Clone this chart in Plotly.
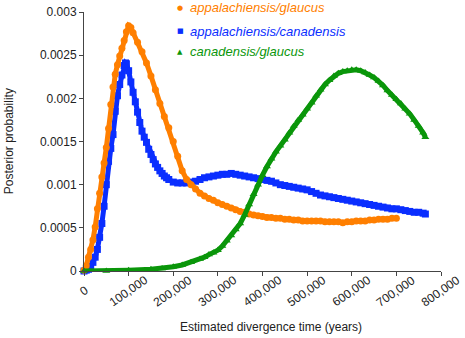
import plotly.graph_objects as go

# ---- data (x in thousands of years, y = posterior probability) ----
ag_x_k = [0, 5, 10, 15, 20, 25, 30, 35, 40, 45, 50, 55, 60, 65, 70, 75, 80, 85, 90, 95, 100, 105,
          110, 120, 130, 140, 150, 160, 170, 180, 190, 200, 210, 220, 230, 240, 250, 260, 270, 280,
          290, 300, 310, 320, 330, 340, 350, 360, 370, 380, 390, 400, 410, 420, 430, 440, 450, 460,
          470, 480, 490, 500, 510, 520, 530, 540, 550, 560, 570, 580, 590, 600, 610, 620, 630, 640,
          650, 660, 670, 680, 690, 700]
ag_y = [0.00001, 0.00006, 0.00016, 0.00025, 0.00036, 0.00051, 0.00072, 0.00090, 0.00109, 0.00125,
        0.00143, 0.00165, 0.00193, 0.00213, 0.00228, 0.00239, 0.00249, 0.00258, 0.00267, 0.00277,
        0.00284, 0.00282, 0.00276, 0.00265, 0.00254, 0.00241, 0.00226, 0.00210, 0.00194, 0.00179,
        0.00166, 0.00150, 0.00133, 0.00116, 0.00106, 0.00100, 0.00095, 0.00090, 0.00087, 0.00084,
        0.00082, 0.00079, 0.00077, 0.00075, 0.00073, 0.00071, 0.00069, 0.00068, 0.00066, 0.00065,
        0.00064, 0.00063, 0.00062, 0.00062, 0.00061, 0.00061, 0.00060, 0.00060, 0.00059, 0.00059,
        0.00058, 0.00058, 0.00058, 0.00058, 0.00058, 0.00057, 0.00057, 0.00057, 0.00057, 0.00056,
        0.00057, 0.00057, 0.00058, 0.00058, 0.00058, 0.00059, 0.00059, 0.00060, 0.00060, 0.00060,
        0.00061, 0.00061]

ac_x_k = [0, 5, 10, 15, 20, 25, 30, 35, 40, 45, 50, 55, 60, 65, 70, 75, 80, 85, 90, 93, 95, 100,
          105, 110, 115, 120, 125, 130, 135, 140, 145, 150, 155, 160, 165, 170, 175, 180, 185, 190,
          200, 210, 220, 230, 240, 250, 260, 270, 280, 290, 300, 310, 320, 330, 340, 350, 360, 370,
          380, 390, 400, 410, 420, 430, 440, 450, 460, 470, 480, 490, 500, 510, 520, 530, 540, 550,
          560, 570, 580, 590, 600, 610, 620, 630, 640, 650, 660, 670, 680, 690, 700, 710, 720, 730,
          740, 750, 760, 765]
ac_y = [0.0, 0.00001, 0.00002, 0.00005, 0.00010, 0.00016, 0.00025, 0.00039, 0.00055, 0.00075,
        0.00100, 0.00127, 0.00142, 0.00158, 0.00185, 0.00203, 0.00216, 0.00227, 0.00238, 0.00241,
        0.00240, 0.00232, 0.00219, 0.00207, 0.00196, 0.00184, 0.00172, 0.00162, 0.00155, 0.00149,
        0.00141, 0.00135, 0.00129, 0.00124, 0.00120, 0.00116, 0.00113, 0.00110, 0.00108, 0.00106,
        0.00103, 0.00102, 0.00102, 0.00102, 0.00103, 0.00104, 0.00106, 0.00108, 0.00109, 0.00110,
        0.00111, 0.00112, 0.00112, 0.00113, 0.00112, 0.00111, 0.00110, 0.00109, 0.00108, 0.00107,
        0.00106, 0.00105, 0.00104, 0.00102, 0.00100, 0.00099, 0.00098, 0.00097, 0.00096, 0.00095,
        0.00094, 0.00092, 0.00090, 0.00088, 0.00087, 0.00086, 0.00085, 0.00084, 0.00083, 0.00082,
        0.00081, 0.00080, 0.00079, 0.00078, 0.00077, 0.00076, 0.00075, 0.00074, 0.00073, 0.00072,
        0.00072, 0.00071, 0.00070, 0.00069, 0.00068, 0.00068, 0.00067, 0.00066]

cg_x_k = [0, 50, 100, 150, 175, 200, 220, 240, 260, 270, 280, 290, 300, 310, 320, 330, 340, 350,
          360, 370, 380, 390, 400, 410, 420, 430, 440, 450, 460, 470, 480, 490, 500, 510, 520, 530,
          540, 550, 560, 570, 580, 590, 600, 610, 620, 630, 640, 650, 660, 670, 680, 690, 700, 710,
          720, 730, 740, 750, 760, 765]
cg_y = [0.0, 0.0, 0.00001, 0.00002, 0.00003, 0.00005, 0.00007, 0.00010, 0.00014, 0.00016,
        0.00019, 0.00021, 0.00024, 0.00029, 0.00035, 0.00041, 0.00048, 0.00055, 0.00065, 0.00077,
        0.00089, 0.00100, 0.00111, 0.00121, 0.00130, 0.00138, 0.00145, 0.00152, 0.00160, 0.00168,
        0.00175, 0.00181, 0.00188, 0.00195, 0.00203, 0.00210, 0.00216, 0.00221, 0.00226, 0.00229,
        0.00231, 0.00232, 0.00233, 0.00233, 0.00232, 0.00230, 0.00227, 0.00224, 0.00220, 0.00215,
        0.00209, 0.00204, 0.00199, 0.00194, 0.00188, 0.00182, 0.00175, 0.00168, 0.00160, 0.00155]

series_names = ["appalachiensis/glaucus", "appalachiensis/canadensis", "canadensis/glaucus"]
series_colors = ["#FF7F00", "#0A2EFF", "#0A960A"]
series_symbols = ["circle", "square", "triangle-up"]
legend_glyphs = ["\u25CF", "\u25A0", "\u25B2"]

x_tickvals = [0, 100000, 200000, 300000, 400000, 500000, 600000, 700000, 800000]
x_ticktext = ["0", "100,000", "200,000", "300,000", "400,000", "500,000", "600,000", "700,000", "800,000"]
y_tickvals = [0, 0.0005, 0.001, 0.0015, 0.002, 0.0025, 0.003]
y_ticktext = ["0", "0.0005", "0.001", "0.0015", "0.002", "0.0025", "0.003"]

FONT = "Liberation Sans, Arial, Helvetica, sans-serif"

fig = go.Figure()

data = [
    (ag_x_k, ag_y),
    (ac_x_k, ac_y),
    (cg_x_k, cg_y),
]
# draw order: blue, orange, green
for i in [1, 0, 2]:
    xs_k, ys = data[i]
    fig.add_trace(go.Scatter(
        x=[v * 1000 for v in xs_k], y=ys,
        name=series_names[i],
        mode="lines+markers",
        line=dict(color=series_colors[i], width=5),
        marker=dict(color=series_colors[i], symbol=series_symbols[i], size=7),
        cliponaxis=False,
        showlegend=False,
        hoverinfo="skip",
    ))

annotations = []
# x tick labels (rotated, centred under ticks)
for v, t in zip(x_tickvals, x_ticktext):
    annotations.append(dict(
        x=v, xref="x", y=-0.079, yref="paper", text=t, showarrow=False,
        textangle=-35, xanchor="center", yanchor="middle",
        font=dict(family=FONT, size=12, color="#222"),
    ))
annotations.append(dict(
    x=0.524, xref="paper", y=-0.218, yref="paper",
    text="Estimated divergence time (years)", showarrow=False,
    xanchor="center", yanchor="middle",
    font=dict(family=FONT, size=12, color="#222"),
))
annotations.append(dict(
    x=-0.211, xref="paper", y=0.5, yref="paper",
    text="Posterior probability", showarrow=False, textangle=-90,
    xanchor="center", yanchor="middle",
    font=dict(family=FONT, size=12, color="#222"),
))
# legend
legend_y = [1.017, 0.925, 0.846]
for i in range(3):
    annotations.append(dict(
        x=0.269, xref="paper", y=legend_y[i], yref="paper",
        text=legend_glyphs[i], showarrow=False, xanchor="center", yanchor="middle",
        font=dict(family="DejaVu Sans", size=7, color=series_colors[i]),
    ))
    annotations.append(dict(
        x=0.291, xref="paper", y=legend_y[i], yref="paper",
        text="<i>%s</i>" % series_names[i], showarrow=False,
        xanchor="left", yanchor="middle",
        font=dict(family=FONT, size=13, color=series_colors[i]),
    ))

fig.update_layout(
    width=465, height=338,
    margin=dict(l=84, r=24, t=12, b=67, autoexpand=False),
    paper_bgcolor="white", plot_bgcolor="white",
    font=dict(family=FONT, size=12, color="#222"),
    showlegend=False,
    xaxis=dict(
        range=[0, 800000], tickvals=x_tickvals, showticklabels=False,
        ticks="outside", ticklen=4, tickcolor="#444",
        showline=True, linecolor="#444", linewidth=1,
        showgrid=False, zeroline=False, fixedrange=True, automargin=False,
    ),
    yaxis=dict(
        range=[0, 0.003], tickvals=y_tickvals, ticktext=y_ticktext,
        ticks="outside", ticklen=4, tickcolor="#444",
        showline=True, linecolor="#444", linewidth=1,
        showgrid=False, zeroline=False, fixedrange=True, automargin=False,
        tickfont=dict(family=FONT, size=12, color="#222"),
    ),
    annotations=annotations,
)

fig.write_html(
    "out.html",
    config={"displayModeBar": False},
    post_script="document.body.style.margin='0';document.body.style.overflow='hidden';",
)
